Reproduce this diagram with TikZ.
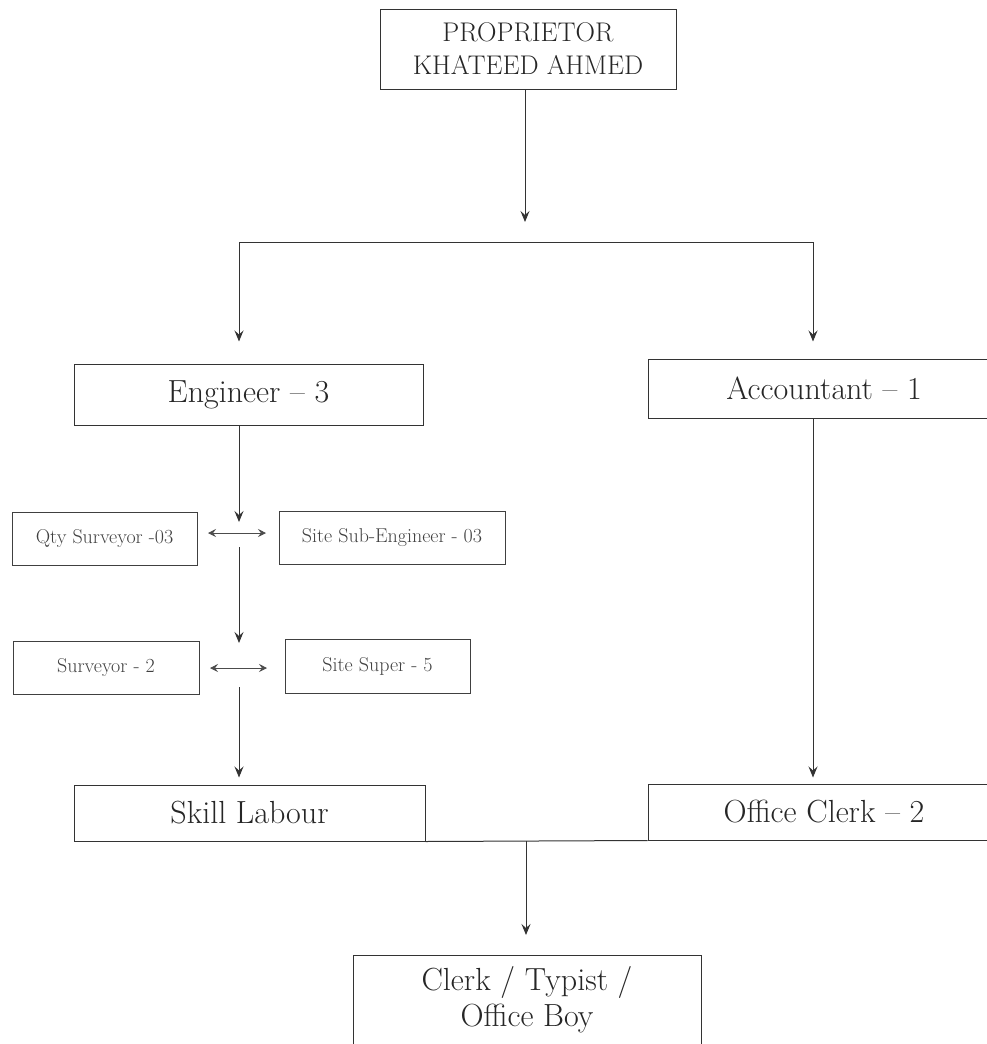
\documentclass[tikz,border=0pt]{standalone}
\usepackage{tikz}
\usetikzlibrary{arrows.meta}
\tikzstyle{arrow} = [line width=1pt, draw=black!80, -{Stealth[length=11pt,width=9pt,inset=4pt]}]
\tikzstyle{line} = [line width=1pt, draw=black!80]
\tikzstyle{twoway} = [line width=0.8pt, draw=black!70, {Stealth[length=8pt,width=8pt,inset=3pt]}-{Stealth[length=8pt,width=8pt,inset=3pt]}]
\tikzstyle{bigbox} = [rectangle, draw=black!80, line width=1pt, text=black!85, inner sep=0pt, font=\fontsize{32}{36}\selectfont]
\tikzstyle{smallbox} = [rectangle, draw=black!75, line width=1pt, text=black!75, inner sep=0pt, font=\fontsize{20}{24}\selectfont]

\begin{document}
\begin{tikzpicture}[x=1pt, y=-1pt]
\useasboundingbox (0,0) rectangle (987,1044);
\clip (0,0) rectangle (987,1044);

% Head
\node (prop) [bigbox, minimum width=296pt, minimum height=80pt, align=center, font=\fontsize{27}{33}\selectfont] at (528,49) {PROPRIETOR\\KHATEED AHMED};

% Second level
\node (eng) [bigbox, minimum width=349pt, minimum height=61pt] at (248.5,394.5) {Engineer -- 3};
\node (acct) [bigbox, minimum width=352pt, minimum height=59pt] at (824,388.5) {Accountant -- 1};

% Site staff
\node (qty) [smallbox, minimum width=185pt, minimum height=53pt] at (104.5,538.5) {Qty Surveyor -03};
\node (sitesub) [smallbox, minimum width=226pt, minimum height=53pt] at (392,537.5) {Site Sub-Engineer - 03};
\node (surv) [smallbox, minimum width=186pt, minimum height=53pt] at (106,667.5) {Surveyor - 2};
\node (super) [smallbox, minimum width=185pt, minimum height=54pt] at (377.5,666) {Site Super - 5};

% Bottom level
\node (skill) [bigbox, minimum width=351pt, minimum height=56pt] at (249.5,813) {Skill Labour};
\node (oclerk) [bigbox, minimum width=352pt, minimum height=56pt] at (824,812) {Office Clerk -- 2};
\node (typist) [bigbox, minimum width=348pt, inner sep=11pt, align=center, anchor=north, text depth=110pt] at (527,955) {Clerk / Typist /\\Office Boy};

% Split points
\coordinate (hub) at (525,242);
\coordinate (lft) at (239,242);
\coordinate (rgt) at (813,242);
\coordinate (merge) at (526,841);

% Head to both sides
\draw [arrow, shorten >=20pt] (prop.south -| hub) -- (hub);
\draw [line] (lft) -- (rgt);
\draw [arrow, shorten >=22pt] (lft) -- (lft |- eng.north);
\draw [arrow, shorten >=17pt] (rgt) -- (rgt |- acct.north);

% Engineer chain
\coordinate (tipa) at (239,522);
\coordinate (outa) at (239,547);
\coordinate (tipb) at (239,643);
\coordinate (outb) at (239,687);
\draw [arrow] (lft |- eng.south) -- (tipa);
\draw [twoway] (208,533) -- (266,533);
\draw [arrow] (outa) -- (tipb);
\draw [twoway] (210,668) -- (267,668);
\draw [arrow, shorten >=7pt] (outb) -- (outb |- skill.north);

% Accounts chain
\draw [arrow, shorten >=6pt] (rgt |- acct.south) -- (rgt |- oclerk.north);

% Merge to typist
\draw [line] (skill.south east) -- (oclerk.south west);
\draw [arrow, shorten >=20pt] (merge) -- (merge |- typist.north);

\end{tikzpicture}
\end{document}
